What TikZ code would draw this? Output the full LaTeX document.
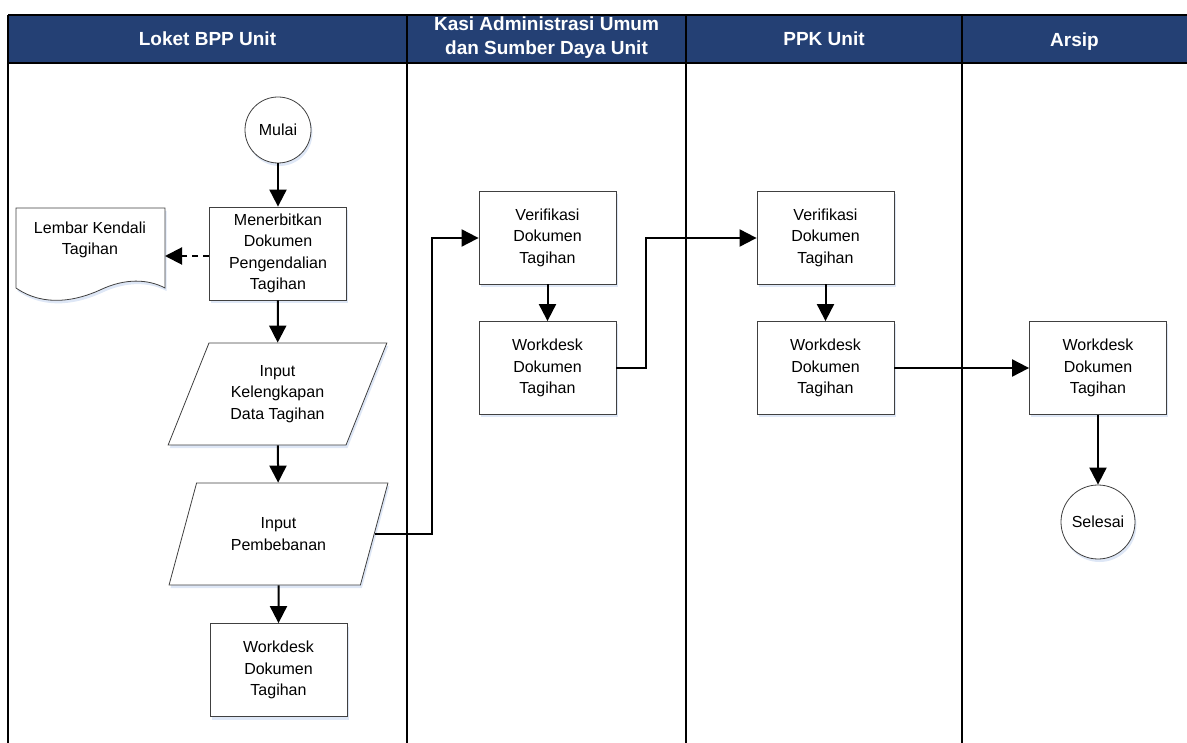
\documentclass[tikz,border=0pt]{standalone}
\usepackage{fontspec}
\setmainfont{Liberation Sans}
\usetikzlibrary{shapes.geometric,arrows.meta,shadows}
\definecolor{hdr}{RGB}{36,64,116}
\definecolor{shad}{RGB}{200,215,240}
\begin{document}
\begin{tikzpicture}[x=1pt,y=-1pt,
  body/.style={font=\fontsize{16}{21.5}\selectfont, align=center},
  procbox/.style={body, draw=black!75, line width=0.8pt, fill=white, minimum width=137pt, minimum height=93pt, inner sep=0pt,
    drop shadow={shadow xshift=1.5pt, shadow yshift=-3pt, fill=shad, opacity=0.6}},
  iobox/.style={body, draw=black!75, line width=0.8pt, fill=white, trapezium, trapezium stretches=true,
    trapezium left angle=63.9, trapezium right angle=116.1, minimum width=219pt, minimum height=102pt, inner sep=0pt,
    drop shadow={shadow xshift=1.5pt, shadow yshift=-3pt, fill=shad, opacity=0.6}},
  termnode/.style={body, draw=black!75, line width=0.8pt, fill=white, circle, inner sep=0pt,
    drop shadow={shadow xshift=1.5pt, shadow yshift=-3pt, fill=shad, opacity=0.6}},
  hdrtext/.style={font=\fontsize{19}{24}\selectfont\bfseries, text=white, align=center},
  flow/.style={line width=2pt, -{Triangle[length=17pt,width=17pt]}},
  lane/.style={line width=2pt, black}
]
\useasboundingbox (0,0) rectangle (1187,743);
% header
\fill[hdr] (8,15) rectangle (1187,63);
\draw[lane] (8,15) -- (1187,15);
\draw[lane] (8,63) -- (1187,63);
\foreach \xx in {8,407,686,962} \draw[lane] (\xx,15) -- (\xx,743);
\node[hdrtext] (h1) at (207.5,39) {Loket BPP Unit};
\node[hdrtext] (h2) at (546.5,37.5) {Kasi Administrasi Umum\\dan Sumber Daya Unit};
\node[hdrtext] (h3) at (824,39) {PPK Unit};
\node[hdrtext] (h4) at (1074.5,41.5) {Arsip};
% lane 1
\node[termnode, minimum size=66pt] (mulai) at (278,130) {Mulai};
\node[procbox] (terbit) at (278,253.5) {Menerbitkan\\Dokumen\\Pengendalian\\Tagihan};
\draw[draw=black!75, line width=0.8pt, fill=white, drop shadow={shadow xshift=1.5pt, shadow yshift=-3pt, fill=shad, opacity=0.6}]
  (16,208) -- (165,208) -- (165,288) .. controls (148,279) and (125,278) .. (100,290)
  .. controls (78,300) and (45,308) .. (16,288) -- cycle;
\node[body] (lembar) at (90,240) {Lembar Kendali\\Tagihan};
\coordinate (lembarR) at (165,256);
\node[iobox] (input1) at (277.5,394) {Input\\Kelengkapan\\Data Tagihan};
\node[iobox] (input2) at (278.5,534) {Input\\Pembebanan};
\node[procbox] (wd1) at (278.5,670) {Workdesk\\Dokumen\\Tagihan};
% lane 2
\node[procbox] (ver2) at (547.5,237.5) {Verifikasi\\Dokumen\\Tagihan};
\node[procbox] (wd2) at (547.5,368) {Workdesk\\Dokumen\\Tagihan};
% lane 3
\node[procbox] (ver3) at (825.5,237.5) {Verifikasi\\Dokumen\\Tagihan};
\node[procbox] (wd3) at (825.5,368) {Workdesk\\Dokumen\\Tagihan};
% lane 4
\node[procbox] (wd4) at (1098,368) {Workdesk\\Dokumen\\Tagihan};
\node[termnode, minimum size=74pt] (selesai) at (1098,522) {Selesai};
% connectors
\draw[flow] (mulai) -- (terbit);
\draw[flow, dashed, dash pattern=on 6pt off 5pt] (terbit.west |- lembarR) -- (lembarR);
\draw[flow] (terbit) -- (input1);
\draw[flow] (input1) -- (input2);
\draw[flow] (input2) -- (wd1);
\draw[flow] (input2.east) -| (432,238) -- (ver2.west |- 0,238);
\draw[flow] (ver2) -- (wd2);
\draw[flow] (wd2.east) -| (646,238) -- (ver3.west |- 0,238);
\draw[flow] (ver3) -- (wd3);
\draw[flow] (wd3) -- (wd4);
\draw[flow] (wd4) -- (selesai);
\end{tikzpicture}
\end{document}
